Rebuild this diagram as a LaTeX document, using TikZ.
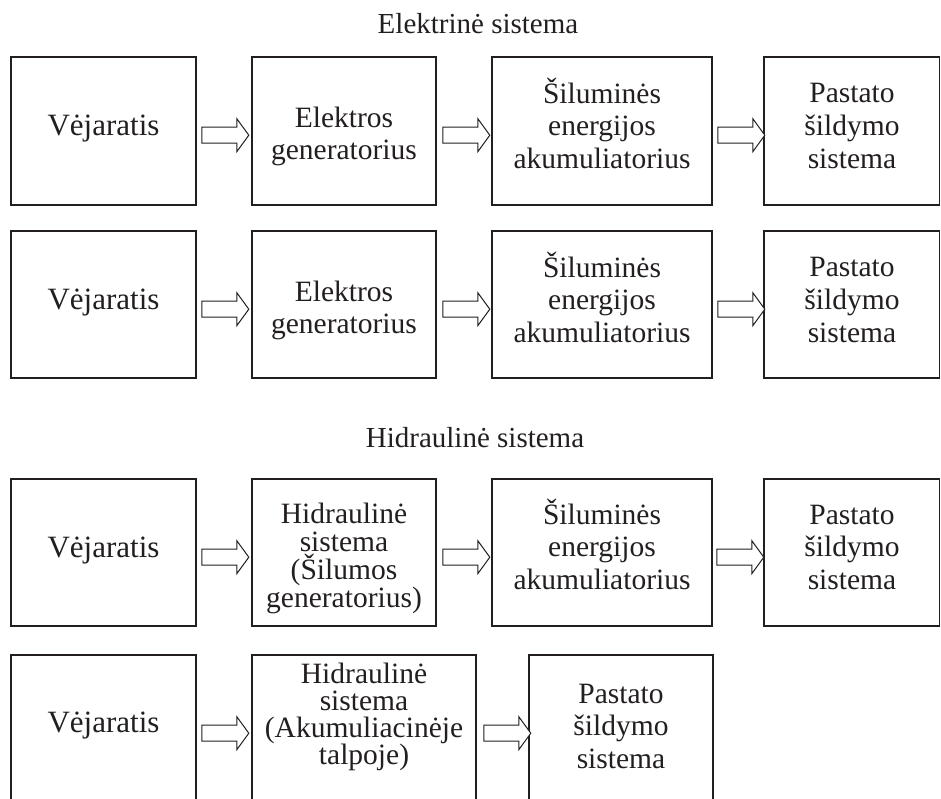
\documentclass[tikz,border=0pt]{standalone}
\usepackage{fontspec}
\setmainfont{Liberation Serif}
\usetikzlibrary{calc}
\definecolor{ink}{HTML}{231F20}
\tikzset{
  blk/.style={draw=ink, line width=1.6pt, rectangle, inner sep=0pt},
  txt/.style={anchor=base, inner sep=0pt, text=ink, font=\fontsize{29.5}{#1}\selectfont},
  txt/.default=33,
  big/.style={anchor=base, inner sep=0pt, text=ink, font=\fontsize{31}{33}\selectfont},
  ttl/.style={anchor=base, inner sep=0pt, text=ink, font=\fontsize{29}{33}\selectfont},
  pics/barrow/.style={code={\draw[line width=1pt, draw=ink, fill=white]
     (0,-8) -- (35,-8) -- (35,-16.5) -- (47,0) -- (35,16.5) -- (35,8) -- (0,8) -- cycle;}}
}
\newcommand\mylns[1]{\begin{tabular}[t]{@{}c@{}}#1\end{tabular}}
\begin{document}
\begin{tikzpicture}[x=1pt,y=-1pt]
\useasboundingbox (0,0) rectangle (941,798);
\fill[white] (0,0) rectangle (941,798);
\clip (0,0) rectangle (941,798);

% titles
\node[ttl] (title1) at (478,33) {Elektrinė sistema};
\node[ttl] (title2) at (475,447) {Hidraulinė sistema};

% ---------- row 1 ----------
\node[blk, minimum width=185, minimum height=148] (r1a) at (103.5,131) {};
\node[blk, minimum width=184, minimum height=148] (r1b) at (344,131) {};
\node[blk, minimum width=220, minimum height=148] (r1c) at (602,131) {};
\node[blk, minimum width=175.5, minimum height=148] (r1d) at (851.75,131) {};
\node[big] (r1at) at (103.5,135) {Vėjaratis};
\node[txt=32] (r1bt) at (344,127) {\mylns{\smash{Elektros}\\\smash{generatorius}}};
\node[txt=32.5] (r1ct) at (602,103) {\mylns{\smash{Šiluminės}\\\smash{energijos}\\\smash{akumuliatorius}}};
\node[txt=33] (r1dt) at (852,102) {\mylns{\smash{Pastato}\\\smash{šildymo}\\\smash{sistema}}};
\pic at ($(r1a.north east)+(5,79)$) {barrow};
\pic at ($(r1b.north east)+(6,79)$) {barrow};
\pic at ($(r1c.north east)+(5,79)$) {barrow};

% ---------- row 2 ----------
\node[blk, minimum width=185, minimum height=147] (r2a) at (103.5,304.5) {};
\node[blk, minimum width=184, minimum height=147] (r2b) at (344,304.5) {};
\node[blk, minimum width=220, minimum height=147] (r2c) at (602,304.5) {};
\node[blk, minimum width=175.5, minimum height=147] (r2d) at (851.75,304.5) {};
\node[big] (r2at) at (103.5,309) {Vėjaratis};
\node[txt=32] (r2bt) at (344,301) {\mylns{\smash{Elektros}\\\smash{generatorius}}};
\node[txt=32.5] (r2ct) at (602,277) {\mylns{\smash{Šiluminės}\\\smash{energijos}\\\smash{akumuliatorius}}};
\node[txt=33] (r2dt) at (852,276) {\mylns{\smash{Pastato}\\\smash{šildymo}\\\smash{sistema}}};
\pic at ($(r2a.north east)+(5,79)$) {barrow};
\pic at ($(r2b.north east)+(6,79)$) {barrow};
\pic at ($(r2c.north east)+(5,79)$) {barrow};

% ---------- row 3 ----------
\node[blk, minimum width=185, minimum height=147] (r3a) at (103.5,552.5) {};
\node[blk, minimum width=184, minimum height=147] (r3b) at (344,552.5) {};
\node[blk, minimum width=220, minimum height=147] (r3c) at (602,552.5) {};
\node[blk, minimum width=175.5, minimum height=147] (r3d) at (851.75,552.5) {};
\node[big] (r3at) at (103.5,557) {Vėjaratis};
\node[txt=28] (r3bt) at (344,523) {\mylns{\smash{Hidraulinė}\\\smash{sistema}\\\smash{(Šilumos}\\\smash{generatorius)}}};
\node[txt=32.5] (r3ct) at (602,524) {\mylns{\smash{Šiluminės}\\\smash{energijos}\\\smash{akumuliatorius}}};
\node[txt=32.5] (r3dt) at (852,524) {\mylns{\smash{Pastato}\\\smash{šildymo}\\\smash{sistema}}};
\pic at ($(r3a.north east)+(5,79)$) {barrow};
\pic at ($(r3b.north east)+(6,79)$) {barrow};
\pic at ($(r3c.north east)+(4,79)$) {barrow};

% ---------- row 4 ----------
\node[blk, minimum width=185, minimum height=160] (r4a) at (103.5,735) {};
\node[blk, minimum width=224, minimum height=160] (r4b) at (364,735) {};
\node[blk, minimum width=184, minimum height=160] (r4c) at (621,735) {};
\node[big] (r4at) at (103.5,732) {Vėjaratis};
\node[txt=27.3] (r4bt) at (364,683) {\mylns{\smash{Hidraulinė}\\\smash{sistema}\\\smash{(Akumuliacinėje}\\\smash{talpoje)}}};
\node[txt=32.5] (r4ct) at (621,703) {\mylns{\smash{Pastato}\\\smash{šildymo}\\\smash{sistema}}};
\pic at ($(r4a.north east)+(5,79)$) {barrow};
\pic at ($(r4b.north east)+(7,79)$) {barrow};
\end{tikzpicture}
\end{document}
